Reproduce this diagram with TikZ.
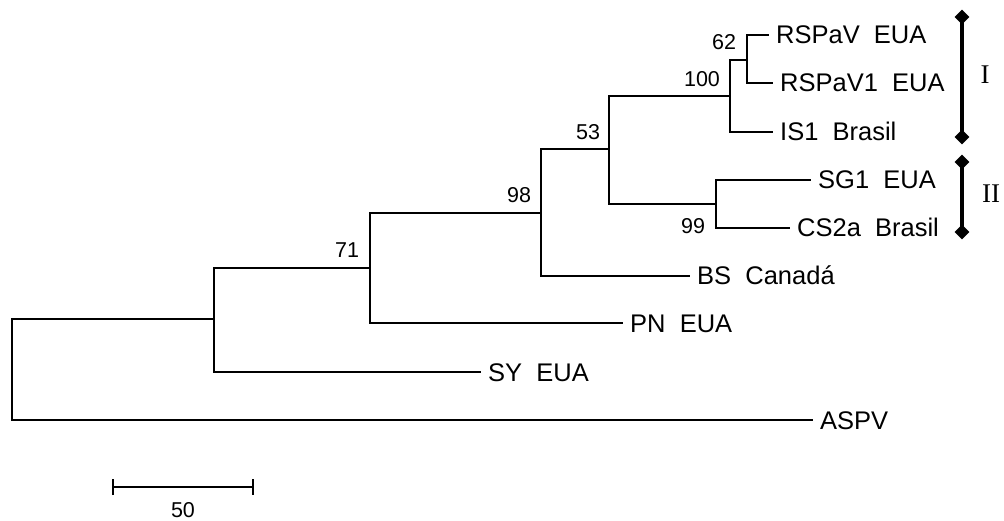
\documentclass[tikz,border=0pt]{standalone}
\usepackage{fontspec}
\setmainfont{Liberation Sans}
\newfontfamily\romanfont{Liberation Serif}
\usetikzlibrary{shapes.geometric,arrows.meta}
\begin{document}
\begin{tikzpicture}[x=1pt,y=-1pt,
  branch/.style={line width=2.2pt,line cap=rect},
  leaf/.style={anchor=west,inner xsep=8pt,inner ysep=0pt,text height=18pt,text depth=0pt,font=\fontsize{25.5}{30}\selectfont},
  boot/.style={inner sep=0pt,font=\fontsize{21.5}{25}\selectfont},
  grp/.style={inner sep=0pt,font=\romanfont\fontsize{27}{32}\selectfont},
  diam/.style={diamond,fill=black,inner sep=0pt,minimum width=15pt,minimum height=15pt},
  bracket/.style={line width=3.5pt}]
\useasboundingbox (0,0) rectangle (1004,521);
% internal nodes
\coordinate (root) at (12,370);
\coordinate (nA) at (214,319);
\coordinate (nB) at (370,268);
\coordinate (nC) at (541,213);
\coordinate (nD) at (609,149);
\coordinate (nE) at (730,96);
\coordinate (nG) at (747,60);
\coordinate (nF) at (716,204);
% leaves
\node[leaf] (rspav) at (768,35) {RSPaV\ \ EUA};
\node[leaf] (rspav1) at (772,83) {RSPaV1\ \ EUA};
\node[leaf] (is1) at (772,132) {IS1\ \ Brasil};
\node[leaf] (sg1) at (810,180) {SG1\ \ EUA};
\node[leaf] (cs2a) at (789,228) {CS2a\ \ Brasil};
\node[leaf] (bs) at (689,276) {BS\ \ Canadá};
\node[leaf] (pn) at (622,323) {PN\ \ EUA};
\node[leaf] (sy) at (480,372) {SY\ \ EUA};
\node[leaf] (aspv) at (812,420) {ASPV};
% branches
\draw[branch] (root) |- (nA);
\draw[branch] (root) |- (aspv.west);
\draw[branch] (nA) |- (nB);
\draw[branch] (nA) |- (sy.west);
\draw[branch] (nB) |- (nC);
\draw[branch] (nB) |- (pn.west);
\draw[branch] (nC) |- (nD);
\draw[branch] (nC) |- (bs.west);
\draw[branch] (nD) |- (nE);
\draw[branch] (nD) |- (nF);
\draw[branch] (nE) |- (nG);
\draw[branch] (nE) |- (is1.west);
\draw[branch] (nG) |- (rspav.west);
\draw[branch] (nG) |- (rspav1.west);
\draw[branch] (nF) |- (sg1.west);
\draw[branch] (nF) |- (cs2a.west);
% bootstrap values
\node[boot] (b62) at (724,42) {62};
\node[boot] (b100) at (702,79) {100};
\node[boot] (b53) at (588,132) {53};
\node[boot] (b98) at (519,195) {98};
\node[boot] (b71) at (347,250) {71};
\node[boot] (b99) at (693,226) {99};
% group brackets
\node[diam] (i1) at (962,17) {};
\node[diam] (i2) at (962,137) {};
\draw[bracket] (i1.center) -- (i2.center);
\node[grp] (gI) at (985,75) {I};
\node[diam] (ii1) at (962,162) {};
\node[diam] (ii2) at (962,232) {};
\draw[bracket] (ii1.center) -- (ii2.center);
\node[grp] (gII) at (991,194) {II};
% scale bar
\coordinate (s1) at (112,487);
\coordinate (s2) at (254,487);
\draw[line width=2.2pt,{Bar[width=16pt,line width=2.2pt]}-{Bar[width=16pt,line width=2.2pt]}] (s1) -- (s2);
\node[boot] (s50) at (183,510) {50};
\end{tikzpicture}
\end{document}
